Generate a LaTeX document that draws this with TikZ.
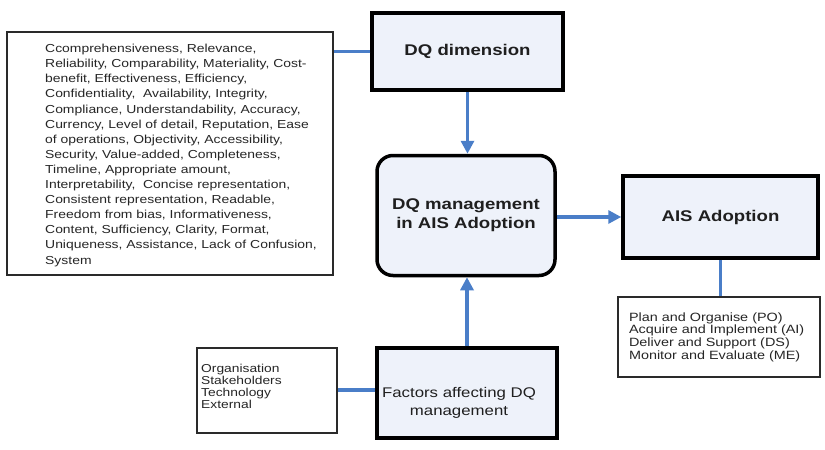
\documentclass[tikz,border=0pt]{standalone}
\usepackage{fontspec}
\setmainfont{Liberation Sans}[FakeStretch=1.2]
\usetikzlibrary{arrows.meta}
\definecolor{conn}{HTML}{4A7EC8}
\definecolor{boxfill}{HTML}{EEF2FA}
\definecolor{txt}{HTML}{262626}
\definecolor{thinline}{HTML}{2A2A2A}
\tikzset{
  thickbox/.style={draw=black, line width=3.5pt, fill=boxfill, inner sep=0pt, text=black!88},
  thinbox/.style={draw=thinline, line width=1.2pt, fill=white, inner sep=0pt},
  title/.style={font=\bfseries\fontsize{15.5}{19}\selectfont},
  conline/.style={draw=conn, line width=3.2pt},
  conarrow/.style={conline, -{Triangle[length=13pt,width=13pt]}},
  listtext/.style={text=txt, align=left, inner sep=0pt}
}
\begin{document}
\begin{tikzpicture}[x=1pt,y=-1pt]
\useasboundingbox (0,0) rectangle (825,450);
% boxes
\node[thinbox, minimum width=326pt, minimum height=243pt] (dims) at (170,153.5) {};
\node[listtext, anchor=north west, font=\fontsize{11.6}{15.1}\selectfont] (dimstext) at (45,44) {%
Ccomprehensiveness, Relevance,\\
Reliability, Comparability, Materiality, Cost-\\
benefit, Effectiveness, Efficiency,\\
Confidentiality,\ \ Availability, Integrity,\\
Compliance, Understandability, Accuracy,\\
Currency, Level of detail, Reputation, Ease\\
of operations, Objectivity, Accessibility,\\
Security, Value-added, Completeness,\\
Timeline, Appropriate amount,\\
Interpretability,\ \ Concise representation,\\
Consistent representation, Readable,\\
Freedom from bias, Informativeness,\\
Content, Sufficiency, Clarity, Format,\\
Uniqueness, Assistance, Lack of Confusion,\\
System};
\node[thickbox, title, minimum width=191pt, minimum height=77pt] (dqdim) at (467.5,51.5) {DQ dimension};
\node[thickbox, title, rounded corners=16pt, align=center, minimum width=178pt, minimum height=120pt] (mgmt) at (466,215.5) {DQ management\\in AIS Adoption};
\node[thickbox, title, minimum width=195pt, minimum height=82pt] (ais) at (720.5,217) {AIS Adoption};
\node[thinbox, listtext, text width=180pt, inner xsep=11pt, minimum height=80pt, font=\fontsize{12}{12.7}\selectfont] (cobit) at (719,337) {%
Plan and Organise (PO)\\
Acquire and Implement (AI)\\
Deliver and Support (DS)\\
Monitor and Evaluate (ME)};
\node[thickbox, minimum width=180pt, minimum height=90pt] (factors) at (467,393) {};
\node[align=center, inner sep=0pt, text=black!88, font=\fontsize{14}{18.5}\selectfont] (factorstext) at (459,403) {Factors affecting DQ\\management};
\node[thinbox, minimum width=140pt, minimum height=85pt] (org) at (267,390.5) {};
\node[listtext, anchor=north west, font=\fontsize{11.5}{12.3}\selectfont] (orgtext) at (201,363.5) {%
Organisation\\
Stakeholders\\
Technology\\
External};
% connectors
\draw[conline] (dqdim.west) -- (dqdim.west -| dims.east);
\draw[conarrow] (dqdim.south) -- (dqdim.south |- mgmt.north);
\draw[conarrow] (factors.north) -- (factors.north |- mgmt.south);
\draw[conarrow] (ais.west -| mgmt.east) -- (ais.west);
\draw[conline] (ais.south) -- (ais.south |- cobit.north);
\draw[conline] (factors.west |- 0,390) coordinate (fw) -- (fw -| org.east);
\end{tikzpicture}
\end{document}
